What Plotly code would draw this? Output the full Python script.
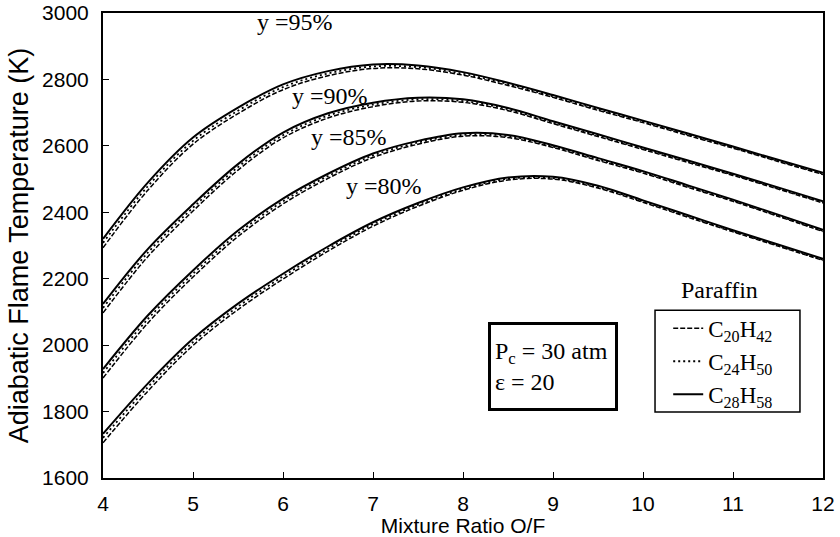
import plotly.graph_objects as go

# Mixture ratio O/F
of_ratio = [4, 4.5, 5, 5.5, 6, 6.5, 7, 7.5, 8, 8.5, 9, 9.5, 10, 10.5, 11, 11.5, 12]

# Adiabatic flame temperature (K) for each paraffin and combustion efficiency y
t95_c28 = [2320, 2490, 2625, 2715, 2785, 2825, 2845, 2842, 2822, 2790, 2753, 2714, 2676, 2637, 2598, 2558, 2519]
t95_c24 = [2308, 2479, 2615, 2706, 2777, 2818, 2839, 2837, 2817, 2786, 2749, 2710, 2673, 2634, 2595, 2555, 2516]
t95_c20 = [2293, 2467, 2605, 2697, 2769, 2811, 2833, 2832, 2813, 2782, 2746, 2707, 2670, 2631, 2593, 2553, 2514]

t90_c28 = [2124, 2290, 2424, 2545, 2640, 2698, 2730, 2745, 2740, 2714, 2674, 2635, 2595, 2556, 2516, 2475, 2433]
t90_c24 = [2112, 2279, 2414, 2536, 2632, 2691, 2724, 2740, 2735, 2710, 2670, 2631, 2592, 2553, 2513, 2472, 2430]
t90_c20 = [2097, 2267, 2404, 2527, 2624, 2684, 2718, 2735, 2731, 2706, 2667, 2628, 2589, 2550, 2511, 2470, 2428]

t85_c28 = [1928, 2090, 2225, 2345, 2441, 2516, 2577, 2615, 2638, 2633, 2602, 2563, 2524, 2481, 2438, 2393, 2347]
t85_c24 = [1916, 2079, 2215, 2336, 2433, 2509, 2571, 2610, 2633, 2629, 2598, 2559, 2521, 2478, 2435, 2390, 2344]
t85_c20 = [1901, 2067, 2205, 2327, 2425, 2502, 2565, 2605, 2629, 2625, 2595, 2556, 2518, 2475, 2433, 2388, 2342]

t80_c28 = [1733, 1885, 2019, 2125, 2215, 2297, 2370, 2428, 2475, 2505, 2507, 2480, 2436, 2391, 2346, 2303, 2260]
t80_c24 = [1721, 1874, 2009, 2116, 2207, 2290, 2364, 2423, 2470, 2501, 2503, 2476, 2433, 2388, 2343, 2300, 2257]
t80_c20 = [1706, 1862, 1999, 2107, 2199, 2283, 2358, 2418, 2466, 2497, 2500, 2473, 2430, 2385, 2341, 2298, 2255]

fuel_names = ["C<sub>20</sub>H<sub>42</sub>", "C<sub>24</sub>H<sub>50</sub>", "C<sub>28</sub>H<sub>58</sub>"]
eff_labels = ["y =95%", "y =90%", "y =85%", "y =80%"]
label_x = [6.13, 6.52, 6.73, 7.12]
label_y = [2973, 2750, 2626, 2478]

groups = [
    [t95_c20, t95_c24, t95_c28],
    [t90_c20, t90_c24, t90_c28],
    [t85_c20, t85_c24, t85_c28],
    [t80_c20, t80_c24, t80_c28],
]
styles = [
    dict(color="black", width=1.5, dash="5px,2px"),
    dict(color="black", width=1.8, dash="2px,3px"),
    dict(color="black", width=2),
]

fig = go.Figure()
for gi, grp in enumerate(groups):
    for fi, temps in enumerate(grp):
        fig.add_trace(go.Scatter(
            x=of_ratio, y=temps, mode="lines",
            line=dict(shape="spline", smoothing=1.0, **styles[fi]),
            name=fuel_names[fi], showlegend=(gi == 0),
        ))

serif = "Liberation Serif, Times New Roman, serif"
sans = "Liberation Sans, Arial, sans-serif"

for txt, lx, ly in zip(eff_labels, label_x, label_y):
    fig.add_annotation(x=lx, y=ly, xref="x", yref="y", text=txt, showarrow=False,
                       xanchor="center", yanchor="middle",
                       font=dict(family=serif, size=24, color="black"))

fig.add_annotation(x=9.0, y=1935, xref="x", yref="y",
                   text="P<sub>c</sub> = 30 atm<br>ε = 20", showarrow=False, align="left",
                   xanchor="center", yanchor="middle",
                   font=dict(family=serif, size=24, color="black"),
                   bordercolor="black", borderwidth=3, borderpad=4, bgcolor="white",
                   width=116, height=75)

fig.add_annotation(x=0.856, y=0.404, xref="paper", yref="paper", text="Paraffin",
                   showarrow=False, xanchor="center", yanchor="middle",
                   font=dict(family=serif, size=24, color="black"))

# legend frame
fig.add_shape(type="rect", xref="paper", yref="paper",
              x0=0.7667, x1=0.968, y0=0.142, y1=0.361,
              line=dict(color="black", width=1.5), fillcolor="white", layer="below")

fig.update_layout(
    width=840, height=537,
    margin=dict(l=103, r=17, t=13, b=59, autoexpand=False),
    paper_bgcolor="white", plot_bgcolor="white",
    legend=dict(x=0.785, y=0.368, xanchor="left", yanchor="top",
                borderwidth=0, bgcolor="rgba(0,0,0,0)",
                font=dict(family=serif, size=23, color="black"),
                itemwidth=30, tracegroupgap=0),
    showlegend=True,
)
fig.update_xaxes(range=[4, 12], dtick=1, tick0=4, ticks="inside", ticklen=6, tickwidth=1,
                 tickcolor="black", showline=True, linecolor="black", linewidth=2, mirror=True,
                 showgrid=False, zeroline=False, ticklabelstandoff=6, automargin=False,
                 tickfont=dict(family=sans, size=21, color="black"),
                 title=dict(text="Mixture Ratio O/F", standoff=11,
                            font=dict(family=sans, size=21, color="black")))
fig.update_yaxes(range=[1600, 3000], dtick=200, ticks="inside", ticklen=6, tickwidth=1,
                 tickcolor="black", showline=True, linecolor="black", linewidth=2, mirror=True,
                 showgrid=False, zeroline=False, ticklabelstandoff=8, automargin=False,
                 tickfont=dict(family=sans, size=21, color="black"),
                 title=dict(text="Adiabatic Flame Temperature (K)", standoff=6,
                            font=dict(family=sans, size=27, color="black")))

fig.write_html("out.html")
